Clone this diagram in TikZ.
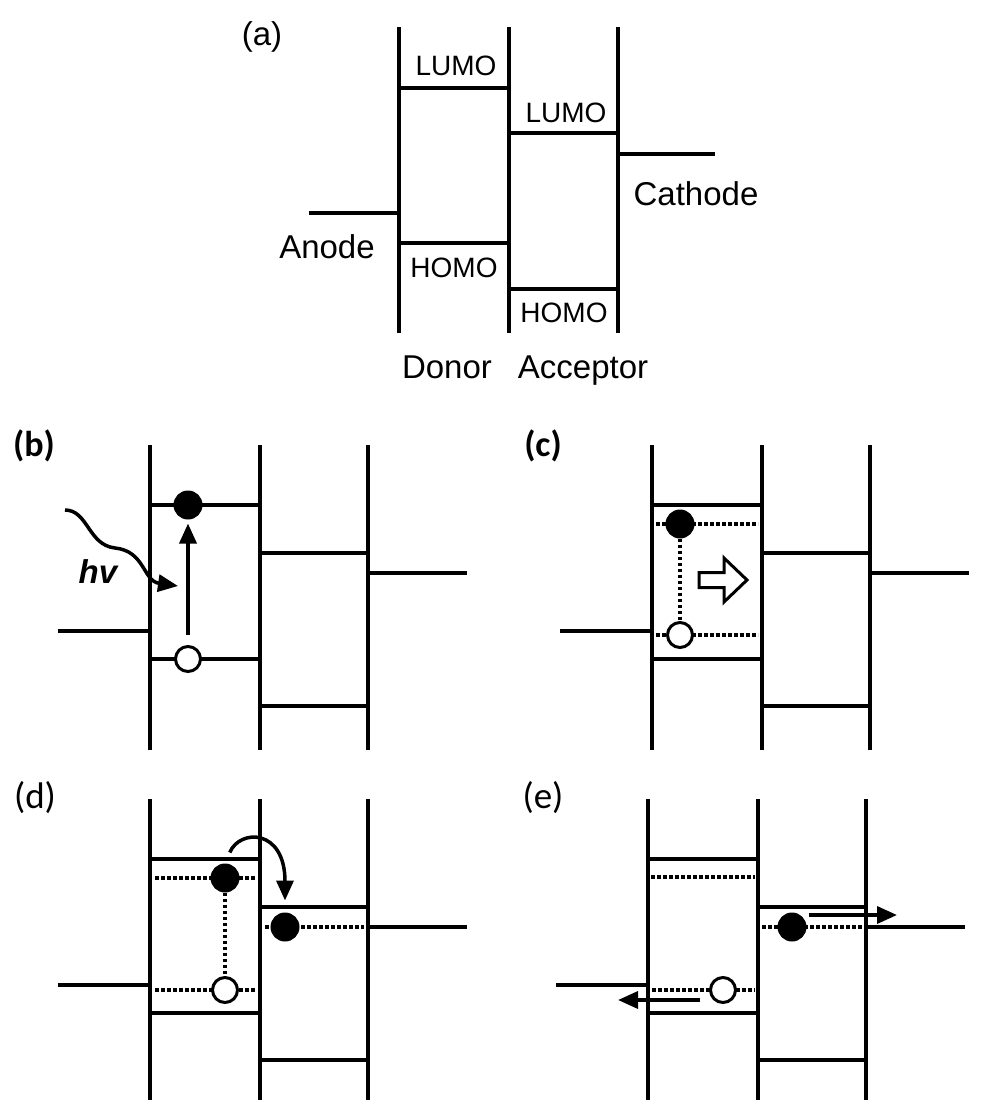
\documentclass[tikz,border=0pt]{standalone}
\usepackage{fontspec}
\setmainfont{Liberation Sans}
\newfontfamily\calfont{Carlito}
\usetikzlibrary{arrows.meta}
\newcommand\odpanel[1]{%
  \draw[lvl] (150,445) -- (150,#1) (260,445) -- (260,#1) (368,445) -- (368,#1);
  \draw[lvl] (150,505) -- (260,505) (150,659) -- (260,659)
             (260,553) -- (368,553) (260,706) -- (368,706)
             (368,573) -- (467,573) (58,631) -- (150,631);
}
\begin{document}
\begin{tikzpicture}[x=1pt,y=-1pt,
  lvl/.style={line width=4pt},
  dots/.style={line width=3.5pt, dash pattern=on 3.5pt off 2.5pt},
  elec/.style={circle, draw, fill=black, line width=2pt, minimum size=27pt, inner sep=0pt},
  hole/.style={circle, draw, fill=white, line width=3pt, minimum size=25pt, inner sep=0pt},
  arr/.style={line width=3.5pt, -{Triangle[length=20pt,width=17pt]}},
  lbl/.style={font=\fontsize{33}{36}\selectfont, anchor=base, inner sep=0pt},
  mo/.style={font=\fontsize{28}{30}\selectfont, anchor=base, inner sep=0pt},
  plbl/.style={font=\calfont\fontsize{37}{40}\selectfont, anchor=base, inner sep=0pt},
]
\fill[white] (0,0) rectangle (981,1100);
\useasboundingbox (0,0) rectangle (981,1100);

% ---------------- (a) ----------------
\node[lbl] (la) at (262,45) {(a)};
\draw[lvl] (399,27) -- (399,333) (509,27) -- (509,333) (618,27) -- (618,333);
\draw[lvl] (399,88) -- (509,88) (399,243) -- (509,243)
           (509,133) -- (618,133) (509,289) -- (618,289)
           (309,213) -- (399,213) (618,154) -- (715,154);
\node[mo] (lumoD) at (456,75) {LUMO};
\node[mo] (lumoA) at (566,122) {LUMO};
\node[mo] (homoD) at (454,277) {HOMO};
\node[mo] (homoA) at (564,322) {HOMO};
\node[lbl] (anode) at (327,258) {Anode};
\node[lbl] (cathode) at (696,205) {Cathode};
\node[lbl] (donor) at (447,378) {Donor};
\node[lbl] (acceptor) at (583,378) {Acceptor};

% ---------------- (b) ----------------
\node[plbl, font=\calfont\bfseries\fontsize{36}{40}\selectfont] (lb) at (34,456) {(b)};
\odpanel{750}
\node[elec] (be) at (188,505) {};
\node[hole] (bh) at (188,659) {};
\draw[arr, shorten <=10pt, shorten >=4pt] (bh) -- (be);
\coordinate (hvs) at (65,510);
\coordinate (hve) at (178,586);
\draw[arr] (hvs) .. controls (88,510) and (88,545) .. (115,548)
                 .. controls (145,551) and (143,581) .. (hve);
\node[font=\bfseries\itshape\fontsize{33}{36}\selectfont, anchor=base, inner sep=0pt] (hv) at (98,583) {hv};

% ---------------- (c) ----------------
\node[plbl, font=\calfont\bfseries\fontsize{36}{40}\selectfont] (lc) at (543,456) {(c)};
\begin{scope}[shift={(502,0)}]
  \odpanel{750}
\end{scope}
\draw[dots] (656,524) -- (758,524) (656,635) -- (758,635);
\node[elec] (ce) at (680,524) {};
\node[hole] (ch) at (680,635) {};
\draw[dots] (ce) -- (ch);
\draw[line width=3pt, line join=miter, fill=white]
  (699,572.5) -- (724,572.5) -- (724,558) -- (747,580) -- (724,602) -- (724,587.5) -- (699,587.5) -- cycle;

% ---------------- (d) ----------------
\node[plbl] (ld) at (35,808) {(d)};
\begin{scope}[shift={(0,354)}]
  \odpanel{746}
\end{scope}
\draw[dots] (155,878) -- (255,878) (155,990) -- (255,990) (265,927) -- (364,927);
\node[elec] (de1) at (225,878) {};
\node[hole] (dh) at (225,990) {};
\node[elec] (de2) at (285,927) {};
\draw[dots] (de1) -- (dh);
\draw[arr, shorten <=12pt, shorten >=12pt] (de1.north) .. controls +(15,-35) and +(0,-84) .. (de2.north);

% ---------------- (e) ----------------
\node[plbl] (le) at (543,808) {(e)};
\begin{scope}[shift={(498,354)}]
  \odpanel{746}
\end{scope}
\draw[dots] (651,877) -- (755,877) (762,927) -- (862,927) (652,990) -- (755,990);
\node[elec] (ee) at (792,927) {};
\node[hole] (eh) at (723,990) {};
\coordinate (eout) at (897,915);
\coordinate (hout) at (618,1000);
\draw[arr] ([xshift=2pt,yshift=12pt]ee.east) -- (eout);
\draw[arr] ([xshift=-9pt,yshift=-10pt]eh.west) -- (hout);
\end{tikzpicture}
\end{document}
